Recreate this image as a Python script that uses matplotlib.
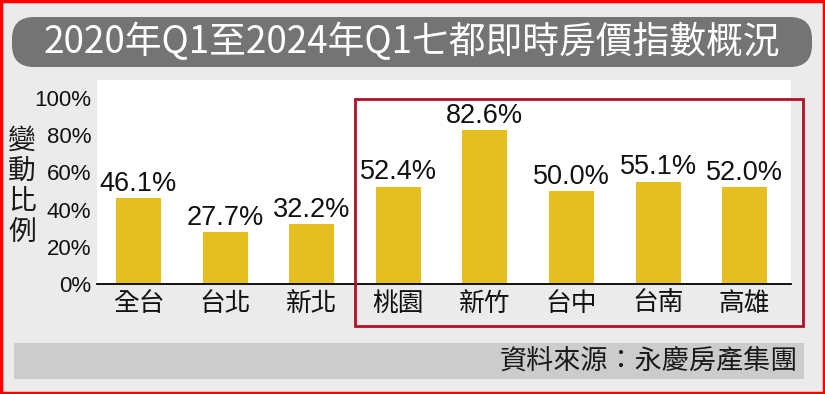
import matplotlib
matplotlib.use("Agg")
import matplotlib.pyplot as plt
from matplotlib.patches import FancyBboxPatch, Rectangle

# data
cities = ["全台", "台北", "新北", "桃園", "新竹", "台中", "台南", "高雄"]
changes = [46.1, 27.7, 32.2, 52.4, 82.6, 50.0, 55.1, 52.0]
y_ticks = [0, 20, 40, 60, 80, 100]
y_tick_labels = ["0%", "20%", "40%", "60%", "80%", "100%"]

title = "2020年Q1至2024年Q1七都即時房價指數概況"
y_title = "變動比例"
source = "資料來源：永慶房產集團"

CJK = ["Noto Sans CJK TC", "DejaVu Sans"]
NUM = ["Liberation Sans", "DejaVu Sans"]

W, H = 825, 394
fig = plt.figure(figsize=(W / 100, H / 100), dpi=100, facecolor="#ebebeb")

# background layer in pixel coordinates
bg = fig.add_axes([0, 0, 1, 1], zorder=0)
bg.set_xlim(0, W)
bg.set_ylim(H, 0)
bg.axis("off")

bg.add_patch(FancyBboxPatch((12, 17), 800, 50,
                            boxstyle="round,pad=0,rounding_size=22",
                            fc="#747474", ec="none"))
bg.text(412, 43, title, color="white", fontsize=26.5, family=CJK,
        ha="center", va="center")

bg.add_patch(Rectangle((14, 343), 790, 36, fc="#cccccc", ec="none"))
bg.text(798, 361, source, color="#1a1a1a", fontsize=19.5, family=CJK,
        ha="right", va="center")

bg.text(22, 186, "\n".join(y_title), color="#1a1a1a", fontsize=20,
        family=CJK, ha="center", va="center", linespacing=1.02)

# chart
ax = fig.add_axes([97 / W, (H - 284) / H, 694 / W, 204 / H], zorder=1)
ax.set_facecolor("white")
x = list(range(len(cities)))
bars = ax.bar(x, changes, width=0.52, color="#e5bf22")
ax.set_xlim(-0.479, 7.535)
ax.set_ylim(0, 100 * 204 / 186)

for b, v in zip(bars, changes):
    ax.annotate(f"{v:.1f}%", (b.get_x() + b.get_width() / 2, v),
                xytext=(0, 1), textcoords="offset points",
                ha="center", va="bottom", fontsize=19.5, family=NUM,
                color="#111111")

ax.set_xticks(x)
ax.set_xticklabels(cities, family=CJK, fontsize=18.5, color="#111111")
ax.set_yticks(y_ticks)
ax.set_yticklabels(y_tick_labels, family=NUM, fontsize=16, color="#111111")
ax.tick_params(length=0)
ax.tick_params(axis="x", pad=5)
ax.tick_params(axis="y", pad=4)
for s in ["top", "right", "left"]:
    ax.spines[s].set_visible(False)
ax.spines["bottom"].set_linewidth(1.3)
ax.spines["bottom"].set_color("black")

# overlay: highlight box and outer border
ov = fig.add_axes([0, 0, 1, 1], zorder=3)
ov.set_xlim(0, W)
ov.set_ylim(H, 0)
ov.axis("off")
ov.patch.set_alpha(0)
ov.add_patch(Rectangle((355, 99), 448, 227, fc="none", ec="#b01028", lw=2))
ov.add_patch(Rectangle((1, 1), W - 2, H - 2, fc="none", ec="#ff0000", lw=2.5))

fig.savefig("out.png", dpi=100, facecolor=fig.get_facecolor())
